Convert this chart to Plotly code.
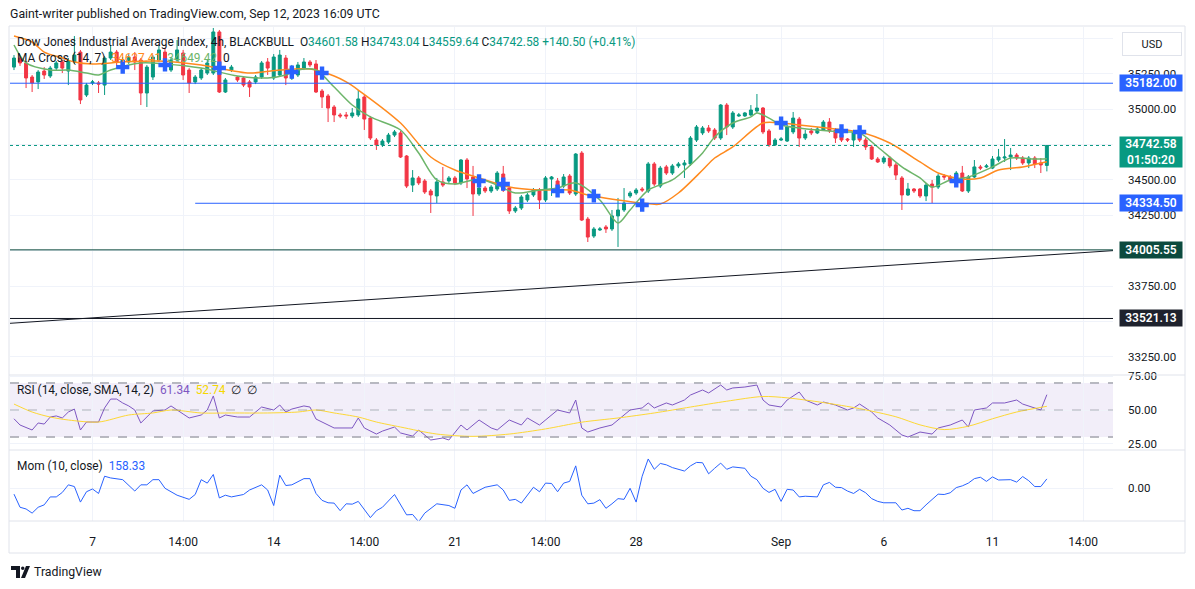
import plotly.graph_objects as go

W, H = 1195, 589

# ---------------- data ----------------
X_TICK_IDX = [13, 28, 43, 58, 73, 88, 103, 127, 144, 162, 177]
X_TICK_TXT = ["7", "14:00", "14", "14:00", "21", "14:00", "28", "Sep", "6", "11", "14:00"]

OPEN = [35296, 35360, 35325, 35226, 35191, 35268, 35233, 35289, 35332, 35268,
        35332, 35402, 35099, 35184, 35184, 35169, 35360, 35402, 35304, 35332,
        35367, 35346, 35113, 35226, 35346, 35402, 35275, 35346, 35395, 35275,
        35191, 35219, 35254, 35254, 35544, 35120, 35275, 35226, 35219, 35191,
        35191, 35226, 35332, 35219, 35240, 35360, 35219, 35240, 35289, 35332,
        35318, 35127, 35092, 35014, 34958, 34958, 34951, 34958, 35085, 34936,
        34781, 34746, 34767, 34816, 34831, 34668, 34463, 34513, 34492, 34421,
        34386, 34485, 34492, 34513, 34478, 34640, 34520, 34400, 34442, 34421,
        34435, 34541, 34442, 34280, 34301, 34358, 34393, 34428, 34358, 34506,
        34492, 34456, 34527, 34400, 34689, 34223, 34103, 34146, 34167, 34153,
        34245, 34287, 34386, 34407, 34435, 34421, 34612, 34456, 34591, 34548,
        34598, 34605, 34612, 34781, 34831, 34866, 34852, 34795, 35028, 34873,
        34951, 34951, 34958, 34986, 35007, 34845, 34746, 34781, 34774, 34838,
        34929, 34795, 34845, 34831, 34852, 34908, 34852, 34816, 34788, 34781,
        34838, 34781, 34732, 34647, 34626, 34654, 34605, 34513, 34393, 34435,
        34435, 34386, 34470, 34449, 34527, 34520, 34506, 34548, 34421, 34520,
        34591, 34591, 34583, 34640, 34654, 34661, 34675, 34654, 34619, 34654,
        34619, 34601.58]
HIGH = [35381, 35374, 35339, 35240, 35275, 35296, 35304, 35339, 35346, 35360,
        35515, 35417, 35184, 35205, 35198, 35374, 35452, 35417, 35367, 35388,
        35402, 35360, 35311, 35381, 35452, 35431, 35360, 35487, 35417, 35289,
        35240, 35289, 35346, 35572, 35558, 35219, 35311, 35233, 35233, 35205,
        35240, 35339, 35360, 35388, 35417, 35381, 35311, 35332, 35360, 35346,
        35346, 35141, 35106, 35028, 34972, 34979, 35007, 35134, 35099, 34951,
        34795, 34788, 34831, 34852, 34845, 34675, 34569, 34527, 34506, 34435,
        34513, 34591, 34527, 34527, 34647, 34654, 34598, 34463, 34456, 34463,
        34562, 34598, 34456, 34315, 34393, 34407, 34442, 34442, 34527, 34527,
        34513, 34541, 34541, 34689, 34703, 34238, 34167, 34167, 34181, 34287,
        34372, 34442, 34421, 34442, 34449, 34626, 34626, 34598, 34605, 34612,
        34626, 34640, 34809, 34887, 34880, 34887, 34866, 35035, 35042, 34986,
        34972, 34979, 35028, 35106, 35014, 34859, 34795, 34802, 34887, 34979,
        34944, 34852, 34866, 34873, 34922, 34936, 34866, 34831, 34795, 34852,
        34880, 34795, 34746, 34661, 34668, 34668, 34619, 34527, 34478, 34442,
        34442, 34478, 34499, 34541, 34541, 34534, 34562, 34598, 34534, 34640,
        34605, 34612, 34668, 34718, 34788, 34725, 34689, 34668, 34668, 34668,
        34654, 34743.04]
LOW = [35275, 35304, 35148, 35120, 35141, 35212, 35219, 35275, 35254, 35169,
       35318, 35035, 35085, 35169, 35113, 35099, 35346, 35304, 35289, 35318,
       35275, 35028, 35014, 35205, 35332, 35289, 35261, 35332, 35205, 35113,
       35176, 35205, 35240, 35240, 35113, 35113, 35261, 35191, 35155, 35085,
       35176, 35212, 35240, 35205, 35226, 35169, 35205, 35226, 35275, 35296,
       35113, 35007, 34908, 34908, 34936, 34929, 34936, 34944, 34852, 34781,
       34711, 34732, 34753, 34802, 34654, 34442, 34414, 34463, 34400, 34266,
       34336, 34449, 34478, 34463, 34463, 34442, 34245, 34386, 34407, 34407,
       34421, 34414, 34259, 34266, 34287, 34343, 34379, 34294, 34343, 34386,
       34414, 34442, 34393, 34386, 34209, 34061, 34089, 34139, 34125, 34139,
       34026, 34273, 34372, 34393, 34414, 34407, 34456, 34442, 34534, 34534,
       34583, 34513, 34598, 34767, 34816, 34831, 34781, 34781, 34816, 34859,
       34944, 34944, 34951, 34972, 34823, 34732, 34739, 34774, 34767, 34823,
       34732, 34781, 34816, 34823, 34845, 34831, 34760, 34767, 34767, 34732,
       34767, 34711, 34640, 34619, 34612, 34583, 34499, 34287, 34386, 34407,
       34372, 34350, 34336, 34435, 34499, 34478, 34499, 34414, 34407, 34513,
       34569, 34583, 34576, 34626, 34626, 34569, 34640, 34605, 34583, 34583,
       34548, 34559.64]
CLOSE = [35360, 35325, 35219, 35184, 35261, 35240, 35289, 35325, 35289, 35339,
         35381, 35064, 35169, 35191, 35176, 35360, 35402, 35332, 35346, 35367,
         35332, 35113, 35296, 35367, 35417, 35311, 35346, 35417, 35240, 35184,
         35226, 35275, 35325, 35544, 35120, 35205, 35296, 35205, 35169, 35155,
         35226, 35325, 35289, 35367, 35381, 35219, 35296, 35311, 35332, 35311,
         35120, 35085, 35007, 34958, 34951, 34951, 34972, 35071, 34929, 34795,
         34746, 34774, 34816, 34838, 34661, 34456, 34513, 34478, 34414, 34393,
         34485, 34463, 34513, 34478, 34640, 34506, 34400, 34442, 34421, 34449,
         34548, 34428, 34280, 34301, 34379, 34393, 34428, 34358, 34513, 34520,
         34428, 34520, 34407, 34682, 34216, 34096, 34153, 34153, 34153, 34245,
         34287, 34336, 34407, 34428, 34428, 34612, 34470, 34583, 34548, 34598,
         34612, 34619, 34795, 34873, 34866, 34845, 34795, 35028, 34873, 34972,
         34958, 34972, 34993, 35007, 34838, 34746, 34781, 34788, 34873, 34936,
         34795, 34823, 34831, 34859, 34908, 34845, 34795, 34781, 34781, 34838,
         34781, 34732, 34647, 34626, 34654, 34598, 34534, 34393, 34435, 34421,
         34386, 34463, 34449, 34527, 34520, 34492, 34548, 34421, 34520, 34591,
         34583, 34598, 34647, 34661, 34661, 34675, 34654, 34619, 34654, 34612,
         34605, 34742.58]

MA_SLOW_IDX = [0, 3, 5, 8, 10, 13, 18, 24, 31, 39, 44, 49, 53, 55, 57, 64, 69, 73, 77, 82, 87, 92,
               95, 100, 104, 107, 110, 114, 116, 119, 124, 127, 130, 136, 140, 145, 150, 153, 157,
               160, 163, 167, 171]
MA_SLOW = [35515, 35473, 35402, 35360, 35332, 35318, 35332, 35339, 35311, 35254, 35275, 35282,
           35233, 35191, 35134, 34901, 34661, 34569, 34513, 34449, 34428, 34428, 34393, 34358,
           34336, 34329, 34407, 34569, 34654, 34732, 34901, 34901, 34887, 34859, 34838, 34760,
           34626, 34548, 34506, 34513, 34569, 34591, 34627.41]
MA_FAST_IDX = [0, 2, 6, 9, 12, 14, 16, 21, 25, 31, 37, 42, 45, 47, 50, 53, 56, 59, 64, 67, 70, 73,
               77, 80, 83, 87, 90, 93, 97, 100, 102, 105, 109, 112, 114, 116, 119, 122, 123, 125,
               127, 130, 133, 137, 140, 143, 147, 150, 152, 155, 158, 162, 165, 169, 171]
MA_FAST = [35452, 35325, 35275, 35275, 35254, 35240, 35275, 35325, 35318, 35289, 35233, 35219,
           35240, 35275, 35275, 35155, 35028, 34944, 34852, 34689, 34499, 34470, 34506, 34463,
           34407, 34428, 34442, 34478, 34358, 34195, 34287, 34428, 34499, 34605, 34689, 34802,
           34901, 34944, 34972, 34936, 34887, 34866, 34852, 34838, 34831, 34732, 34591, 34513,
           34449, 34499, 34520, 34591, 34654, 34647, 34649.42]
CROSS_IDX = [18, 25, 34, 46, 51, 77, 81, 90, 96, 104, 127, 137, 140, 156]
CROSS_VAL = [35296, 35311, 35289, 35261, 35254, 34492, 34470, 34421, 34386, 34322, 34901, 34845,
             34838, 34492]

LEVELS = [35182.00, 34334.50, 34005.55, 33521.13]
LEVEL_START = [None, 30, None, None]
LEVEL_LINE = ["#2962FF", "#2962FF", "#0B4A3E", "#131722"]
LEVEL_BOX = ["#2962FF", "#2962FF", "#0B4A3E", "#1E222D"]
TREND_IDX = [-0.66, 181.95]
TREND_VAL = [33487, 34000]

RSI_IDX = [0, 1, 3, 4, 5, 6, 7, 8, 9, 10, 11, 12, 14, 15, 16, 17, 18, 19, 20, 21, 23, 25, 26, 27,
           29, 31, 32, 33, 34, 35, 37, 39, 41, 43, 44, 45, 46, 48, 49, 50, 51, 53, 56, 57, 58, 60,
           61, 63, 64, 66, 67, 69, 71, 72, 74, 75, 77, 79, 80, 82, 84, 85, 87, 89, 90, 92, 93, 94,
           95, 97, 99, 100, 102, 104, 105, 106, 108, 109, 111, 112, 114, 115, 117, 118, 119, 121,
           123, 124, 125, 127, 128, 130, 131, 133, 134, 136, 138, 139, 140, 142, 143, 145, 147,
           148, 150, 152, 153, 155, 157, 158, 159, 161, 162, 164, 166, 167, 169, 170, 171]
RSI = [43.5, 38.9, 35.2, 40.4, 39.6, 44.8, 45.6, 44.1, 48.5, 50.7, 35.2, 41.1, 41.1, 51.5, 58.1,
       58.1, 55.2, 53.0, 50.0, 40.4, 49.3, 50.0, 53.0, 50.0, 44.1, 46.3, 50.0, 60.4, 44.1, 46.3,
       44.8, 44.8, 52.2, 50.0, 53.7, 48.5, 50.7, 53.0, 52.2, 43.3, 41.1, 36.7, 36.7, 44.1, 36.7,
       32.2, 34.4, 37.4, 33.0, 30.7, 35.2, 27.8, 29.3, 27.8, 38.9, 35.2, 42.6, 36.7, 35.2, 42.6,
       38.9, 44.1, 38.9, 46.3, 50.0, 47.8, 57.4, 36.7, 33.7, 36.7, 38.9, 42.6, 50.0, 51.5, 55.2,
       51.5, 55.2, 53.7, 57.4, 61.1, 64.8, 62.6, 68.5, 64.8, 66.3, 67.0, 68.5, 57.4, 53.7, 52.2,
       57.4, 63.3, 57.4, 53.7, 55.9, 53.7, 50.0, 51.5, 54.4, 48.5, 44.1, 38.9, 31.5, 30.0, 33.7,
       32.2, 36.7, 38.9, 42.6, 37.4, 50.0, 51.5, 55.2, 55.2, 57.4, 54.4, 51.5, 50.0, 61.34]
RSI_MA_IDX = [0, 3, 6, 9, 14, 19, 23, 26, 31, 36, 42, 47, 50, 53, 57, 60, 64, 70, 76, 82, 88, 94,
              100, 106, 112, 118, 124, 128, 134, 140, 146, 150, 154, 158, 162, 166, 171]
RSI_MA = [54.4, 48.5, 44.8, 42.6, 41.1, 46.3, 47.8, 50.0, 47.8, 47.8, 47.8, 48.5, 50.0, 47.8, 44.8,
          41.1, 37.4, 32.2, 30.5, 32.2, 36.0, 41.0, 44.1, 47.8, 52.2, 56.5, 60.0, 59.0, 55.5, 51.0,
          45.0, 39.0, 35.5, 38.0, 43.5, 48.5, 52.74]

MOM_IDX = [0, 1, 2, 3, 4, 5, 6, 7, 8, 9, 10, 11, 12, 13, 14, 15, 16, 18, 20, 21, 22, 23, 24, 25,
           27, 28, 29, 30, 31, 32, 33, 34, 35, 36, 38, 39, 41, 42, 43, 44, 45, 46, 48, 49, 50, 51,
           52, 53, 54, 55, 56, 57, 59, 60, 61, 63, 65, 66, 67, 68, 70, 72, 73, 74, 75, 76, 78, 80,
           81, 82, 83, 84, 86, 87, 88, 89, 90, 91, 92, 93, 94, 95, 96, 97, 98, 99, 100, 101, 102,
           103, 104, 105, 106, 107, 108, 109, 110, 111, 112, 113, 114, 115, 116, 117, 118, 119,
           121, 122, 123, 124, 125, 126, 127, 128, 129, 130, 131, 133, 134, 135, 136, 137, 138,
           139, 140, 141, 142, 143, 144, 146, 147, 148, 149, 150, 151, 152, 153, 154, 155, 156,
           157, 158, 159, 160, 161, 162, 163, 165, 166, 167, 168, 169, 170, 171]
MOM = [-107, -335, -365, -437, -335, -293, -155, -155, -77, 55, 25, -245, -65, -17, -95, 205, 175,
       145, -53, 55, 55, 145, 145, -5, -125, -155, -197, -113, 145, 85, 235, -173, -125, -155,
       -113, -35, 55, -35, -305, 223, 43, 55, 163, 163, -95, -215, -257, -263, -395, -275, -281,
       -233, -515, -395, -335, -113, -467, -461, -587, -437, -275, -305, -353, -35, 55, -95, 13,
       55, -35, -215, -197, -263, 13, -65, 85, 79, -65, 85, 115, 385, -125, -275, -263, -203,
       -353, -275, -185, -197, -5, -245, 205, 505, 325, 427, 403, 355, 325, 295, 385, 445, 439,
       247, 343, 433, 325, 367, 343, 205, 145, -5, -77, -23, -233, -23, -35, -155, -143, -155,
       55, 97, 13, 7, -53, -95, -23, -83, -185, -233, -257, -257, -383, -353, -395, -395, -293,
       -197, -107, -113, -83, 7, 37, 85, 163, 187, 115, 193, 139, 145, 103, 199, 127, 25, 25,
       158.33]

# ---------------- styling / layout ----------------
UP, DN = "#089981", "#F23645"
TXT = "#131722"
GRID = "#F0F3FA"
BORDER = "#E0E3EB"
FONT = "Roboto"
X_RANGE = [-0.66, 181.95]
N = len(CLOSE)
XS = list(range(N))

PL, PR = 10, 1113
def fx(p): return p / W
def fy(p): return 1 - p / H

DOM_X = [fx(PL), fx(PR)]
DOM_MAIN = [fy(375), fy(27)]
DOM_RSI = [fy(450), fy(375)]
DOM_MOM = [fy(521), fy(450)]

fig = go.Figure()
fig.add_trace(go.Candlestick(
    x=XS, open=OPEN, high=HIGH, low=LOW, close=CLOSE,
    increasing=dict(line=dict(color=UP, width=1), fillcolor=UP),
    decreasing=dict(line=dict(color=DN, width=1), fillcolor=DN),
    whiskerwidth=0, xaxis="x", yaxis="y", hoverinfo="skip"))
fig.add_trace(go.Scatter(x=MA_SLOW_IDX, y=MA_SLOW, mode="lines",
                         line=dict(color="#FF8A1E", width=1.5, shape="spline", smoothing=0.8),
                         xaxis="x", yaxis="y"))
fig.add_trace(go.Scatter(x=MA_FAST_IDX, y=MA_FAST, mode="lines",
                         line=dict(color="#6DB56A", width=1.5, shape="spline", smoothing=0.8),
                         xaxis="x", yaxis="y"))
fig.add_trace(go.Scatter(x=CROSS_IDX, y=CROSS_VAL, mode="markers",
                         marker=dict(symbol="cross", size=11, color="#2962FF", line=dict(width=0)),
                         xaxis="x", yaxis="y"))
fig.add_trace(go.Scatter(x=TREND_IDX, y=TREND_VAL, mode="lines",
                         line=dict(color="#131722", width=1), xaxis="x", yaxis="y"))

# RSI
fig.add_trace(go.Scatter(x=RSI_IDX, y=RSI, mode="lines", line=dict(color="#7E57C2", width=1),
                         xaxis="x2", yaxis="y2"))
fig.add_trace(go.Scatter(x=RSI_MA_IDX, y=RSI_MA, mode="lines",
                         line=dict(color="#FDD835", width=1, shape="spline", smoothing=0.8),
                         xaxis="x2", yaxis="y2"))
# Momentum
fig.add_trace(go.Scatter(x=MOM_IDX, y=MOM, mode="lines", line=dict(color="#2962FF", width=1),
                         xaxis="x3", yaxis="y3"))

shapes = []
annotations = []

# horizontal drawings + axis labels
for v, st, lc, bc in zip(LEVELS, LEVEL_START, LEVEL_LINE, LEVEL_BOX):
    shapes.append(dict(type="line", xref="x", yref="y", x0=X_RANGE[0] if st is None else st,
                       x1=X_RANGE[1], y0=v, y1=v, line=dict(color=lc, width=1)))
    annotations.append(dict(xref="paper", yref="y", x=fx(1119), y=v, xanchor="left",
                            yanchor="middle", text=f"{v:.2f}", showarrow=False,
                            bgcolor=bc, borderpad=2, width=58, height=12, align="center",
                            font=dict(family=FONT, size=12, color="white", weight=600)))
# current price line & label
last = CLOSE[-1]
shapes.append(dict(type="line", xref="x", yref="y", x0=X_RANGE[0], x1=X_RANGE[1], y0=last, y1=last,
                   line=dict(color=UP, width=1, dash="dot")))
annotations.append(dict(xref="paper", yref="y", x=fx(1119), y=last, xanchor="left", yanchor="top",
                        yshift=9, text=f"{last:.2f}<br>01:50:20", showarrow=False, bgcolor=UP,
                        borderpad=2, align="center", width=58, height=26,
                        font=dict(family=FONT, size=12, color="white", weight=600)))

# RSI band
shapes.append(dict(type="rect", xref="x2", yref="y2", x0=X_RANGE[0], x1=X_RANGE[1], y0=30, y1=70,
                   fillcolor="rgba(126,87,194,0.1)", line=dict(width=0), layer="below"))
for lvl, col in [(70, "#787B86"), (50, "rgba(120,123,134,0.55)"), (30, "#787B86")]:
    shapes.append(dict(type="line", xref="x2", yref="y2", x0=X_RANGE[0], x1=X_RANGE[1], y0=lvl,
                       y1=lvl, line=dict(color=col, width=1, dash="dash")))

# frame & pane separators
shapes.append(dict(type="rect", xref="paper", yref="paper", x0=fx(9), x1=fx(1185), y0=fy(553),
                   y1=fy(26), line=dict(color=BORDER, width=1)))
for yy in (375, 450, 521):
    shapes.append(dict(type="line", xref="paper", yref="paper", x0=fx(9), x1=fx(1185), y0=fy(yy),
                       y1=fy(yy), line=dict(color=BORDER, width=1)))

# TradingView logo (decoration)
shapes.append(dict(type="path", xref="paper", yref="paper",
                   path=f"M {fx(11)},{fy(566)} L {fx(20)},{fy(566)} L {fx(20)},{fy(578)} L {fx(16)},{fy(578)} L {fx(16)},{fy(570)} L {fx(11)},{fy(570)} Z",
                   fillcolor=TXT, line=dict(width=0)))
shapes.append(dict(type="circle", xref="paper", yref="paper", x0=fx(21), x1=fx(24.5), y0=fy(570),
                   y1=fy(566.5), fillcolor=TXT, line=dict(width=0)))
shapes.append(dict(type="path", xref="paper", yref="paper",
                   path=f"M {fx(26)},{fy(566)} L {fx(30)},{fy(566)} L {fx(25)},{fy(578)} L {fx(21)},{fy(578)} Z",
                   fillcolor=TXT, line=dict(width=0)))

def ann(px, py, text, size=12, color=TXT, xanchor="left"):
    annotations.append(dict(xref="paper", yref="paper", x=fx(px), y=fy(py), text=text,
                            showarrow=False, xanchor=xanchor, yanchor="middle",
                            font=dict(family=FONT, size=size, color=color)))

G = "#089981"
ann(8, 14, "Gaint-writer published on TradingView.com, Sep 12, 2023 16:09 UTC", 12.3)
ann(15, 42, "Dow Jones Industrial Average Index, 4h, BLACKBULL&nbsp;&nbsp;"
    f"O<span style='color:{G}'>34601.58</span> H<span style='color:{G}'>34743.04</span> "
    f"L<span style='color:{G}'>34559.64</span> C<span style='color:{G}'>34742.58</span> "
    f"<span style='color:{G}'>+140.50 (+0.41%)</span>", 11.9)
ann(15, 58, "MA Cross (14, 7)&nbsp;&nbsp;<span style='color:#FF8A1E'>34627.41</span>&nbsp;&nbsp;"
    "<span style='color:#6DB56A'>34649.42</span>&nbsp;&nbsp;0", 11.9)
ann(15, 390, "RSI (14, close, SMA, 14, 2)&nbsp;&nbsp;<span style='color:#7E57C2'>61.34</span>&nbsp;&nbsp;"
    "<span style='color:#F5D800'>52.74</span>&nbsp;&nbsp;∅&nbsp;&nbsp;∅", 11.9)
ann(15, 466, "Mom (10, close)&nbsp;&nbsp;<span style='color:#2962FF'>158.33</span>", 11.9)
ann(32, 572, "TradingView", 12.3)
annotations.append(dict(xref="paper", yref="paper", x=fx(1152), y=fy(44), text="USD",
                        showarrow=False, xanchor="center", yanchor="middle",
                        bordercolor=BORDER, borderwidth=1, borderpad=4, bgcolor="white",
                        font=dict(family=FONT, size=11, color=TXT), width=50, height=14))

main_ticks = [33250, 33500, 33750, 34000, 34250, 34500, 34750, 35000, 35250, 35500]
main_shown = {33250, 33750, 34250, 34500, 35000, 35250}
main_text = [f"{t:.2f}" if t in main_shown else "" for t in main_ticks]

xcommon = dict(range=X_RANGE, tickvals=X_TICK_IDX, showgrid=True, gridcolor=GRID, gridwidth=1,
               zeroline=False, showline=False, ticks="", fixedrange=True, automargin=False,
               rangeslider=dict(visible=False))
ycommon = dict(side="right", showgrid=True, gridcolor=GRID, zeroline=False, showline=False,
               ticks="", ticklabelstandoff=14, automargin=False,
               tickfont=dict(family=FONT, size=11.5, color=TXT))

fig.update_layout(
    width=W, height=H, margin=dict(l=0, r=0, t=0, b=0, pad=0, autoexpand=False),
    paper_bgcolor="white", plot_bgcolor="white", showlegend=False, hovermode=False,
    xaxis=dict(**xcommon, domain=DOM_X, anchor="y", showticklabels=False),
    xaxis2=dict(**xcommon, domain=DOM_X, anchor="y2", showticklabels=False, matches="x"),
    xaxis3=dict(**xcommon, domain=DOM_X, anchor="y3", showticklabels=True, matches="x",
                ticktext=X_TICK_TXT, ticklabelstandoff=12,
                tickfont=dict(family=FONT, size=12, color=TXT)),
    yaxis=dict(**ycommon, domain=DOM_MAIN, anchor="x", range=[33122, 35579],
               tickvals=main_ticks, ticktext=main_text),
    yaxis2=dict(**ycommon, domain=DOM_RSI, anchor="x2", range=[20.4, 75.9],
                tickvals=[25, 50, 75], ticktext=["25.00", "50.00", "75.00"]),
    yaxis3=dict(**ycommon, domain=DOM_MOM, anchor="x3", range=[-574, 661],
                tickvals=[0], ticktext=["0.00"]),
    shapes=shapes, annotations=annotations,
)

POST = ("var gd=document.getElementById('{plot_id}');"
        "document.documentElement.style.margin='0';document.body.style.margin='0';"
        "document.documentElement.style.overflow='hidden';document.body.style.overflow='hidden';"
        "gd.style.position='fixed';gd.style.top='0px';gd.style.left='0px';")
fig.write_html("out.html", config={"displayModeBar": False, "staticPlot": True}, post_script=POST)
